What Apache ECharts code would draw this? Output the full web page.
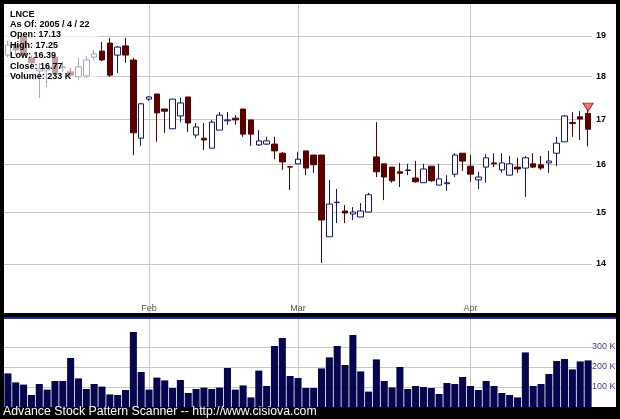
<!DOCTYPE html>
<html><head><meta charset="utf-8">
<script src="https://cdn.jsdelivr.net/npm/echarts@6/dist/echarts.min.js"></script>
<style>html,body{margin:0;padding:0;background:#000;}#c{width:620px;height:419px;}</style>
</head><body><div id="c"></div>
<script>
const ticker = 'LNCE';
const dates = [
 '2005-01-05','2005-01-06','2005-01-07','2005-01-10','2005-01-11','2005-01-12','2005-01-13','2005-01-14','2005-01-18','2005-01-19',
 '2005-01-20','2005-01-21','2005-01-24','2005-01-25','2005-01-26','2005-01-27','2005-01-28','2005-01-31',
 '2005-02-01','2005-02-02','2005-02-03','2005-02-04','2005-02-07','2005-02-08','2005-02-09','2005-02-10','2005-02-11','2005-02-14',
 '2005-02-15','2005-02-16','2005-02-17','2005-02-18','2005-02-22','2005-02-23','2005-02-24','2005-02-25','2005-02-28',
 '2005-03-01','2005-03-02','2005-03-03','2005-03-04','2005-03-07','2005-03-08','2005-03-09','2005-03-10','2005-03-11','2005-03-14',
 '2005-03-15','2005-03-16','2005-03-17','2005-03-18','2005-03-21','2005-03-22','2005-03-23','2005-03-24','2005-03-28','2005-03-29',
 '2005-03-30','2005-03-31',
 '2005-04-01','2005-04-04','2005-04-05','2005-04-06','2005-04-07','2005-04-08','2005-04-11','2005-04-12','2005-04-13','2005-04-14',
 '2005-04-15','2005-04-18','2005-04-19','2005-04-20','2005-04-21','2005-04-22'
];
const openP = [18.52,18.77,19.00,18.45,18.13,18.15,18.47,18.21,18.11,17.99,
 18.01,18.47,18.62,18.82,18.52,18.75,18.40,16.57,17.46,17.58,
 17.23,16.78,17.07,17.51,16.64,16.57,16.35,16.75,16.96,17.02,
 17.23,16.98,16.42,16.44,16.44,16.24,15.95,16.01,16.29,16.20,
 16.20,14.52,15.20,15.03,14.97,14.91,15.01,16.16,16.01,15.94,
 15.84,15.87,15.71,15.61,15.96,15.56,15.59,15.79,16.24,15.96,
 15.67,15.94,16.03,15.88,15.77,15.94,15.92,16.01,15.99,16.03,
 16.24,16.49,16.92,17.05,17.13];
const closeP = [18.77,18.65,18.52,18.33,18.18,18.20,18.08,18.23,18.03,18.23,
 18.40,18.55,18.40,18.03,18.72,18.52,16.69,17.35,17.51,17.14,
 17.18,17.46,17.37,16.91,16.82,16.53,16.93,17.09,16.98,16.98,
 16.66,16.66,16.51,16.51,16.29,16.05,15.94,16.11,15.92,15.99,
 14.85,15.17,15.21,14.99,15.01,15.03,15.36,15.84,15.73,15.65,
 15.81,15.88,15.63,15.90,15.65,15.69,15.61,16.20,16.07,15.79,
 15.73,16.14,16.01,16.03,16.01,15.90,16.14,15.94,15.92,16.07,
 16.46,17.07,16.90,17.00,16.77];
const lowP = [18.47,18.52,18.50,18.25,17.49,17.75,18.03,18.11,17.99,17.91,
 17.96,18.40,18.37,17.99,18.08,18.33,16.20,16.40,17.42,16.49,
 16.69,16.77,16.93,16.71,16.57,16.31,16.35,16.75,16.87,16.87,
 16.60,16.40,16.40,16.42,16.11,15.88,15.46,16.01,15.77,15.82,
 14.02,14.52,14.79,14.79,14.85,14.91,15.01,15.73,15.25,15.61,
 15.52,15.77,15.61,15.61,15.63,15.56,15.44,15.73,15.86,15.63,
 15.48,15.61,15.94,15.82,15.77,15.82,15.32,15.92,15.88,15.82,
 15.96,16.49,16.60,16.53,16.39];
const highP = [18.87,18.85,19.05,18.50,18.33,18.28,18.52,18.35,18.20,18.45,
 18.50,18.65,18.85,18.95,18.75,18.95,18.45,17.37,17.53,17.58,
 17.23,17.47,17.49,17.51,16.91,16.91,16.98,17.16,17.16,17.09,
 17.23,16.98,16.75,16.60,16.60,16.27,15.96,16.27,16.29,16.20,
 16.20,15.67,15.48,15.15,15.11,15.19,15.40,16.93,16.01,15.94,
 16.03,16.01,16.07,16.01,15.96,16.01,15.77,16.24,16.24,16.20,
 15.84,16.22,16.24,16.24,16.18,16.14,16.18,16.24,16.18,16.29,
 16.60,17.09,17.16,17.18,17.25];
const volumeK = [168,123,112,60,115,87,130,130,245,143,
 90,115,102,63,60,85,375,175,87,147,
 133,95,135,70,90,97,90,97,195,87,
 108,48,182,105,305,345,155,145,95,95,
 193,248,305,210,360,178,77,238,130,98,
 200,90,105,100,95,65,120,115,150,105,
 85,130,105,70,60,48,273,105,115,165,
 230,240,188,228,233];
const priceTicks = [14,15,16,17,18,19];
const volumeTicks = [100,200,300];
const monthNames = ['Jan','Feb','Mar','Apr','May','Jun','Jul','Aug','Sep','Oct','Nov','Dec'];

const FONT = 'Liberation Sans, Arial, sans-serif';
function isMonthStart(i){ return i > 0 && dates[i].slice(5,7) !== dates[i-1].slice(5,7); }
const ohlc = dates.map((d,i) => [openP[i], closeP[i], lowP[i], highP[i]]);
const last = dates.length - 1;
const dp = dates[last].split('-');
const infoText = [
  ticker,
  'As Of: ' + dp[0] + ' / ' + (+dp[1]) + ' / ' + (+dp[2]),
  'Open: ' + openP[last].toFixed(2),
  'High: ' + highP[last].toFixed(2),
  'Low: ' + lowP[last].toFixed(2),
  'Close: ' + closeP[last].toFixed(2),
  'Volume: ' + volumeK[last] + ' K'
].join('\n');

const monthSplit = {
  show: true,
  interval: (idx) => isMonthStart(idx),
  alignWithLabel: true,
  lineStyle: {color: '#c8c8c8', width: 1}
};

const chart = echarts.init(document.getElementById('c'), null, {renderer: 'canvas'});
chart.setOption({
  animation: false,
  backgroundColor: '#000',
  grid: [
    {left: 4, right: 28, top: 4, height: 309},
    {left: 4, right: 28, top: 319, height: 88}
  ],
  xAxis: [
    {type: 'category', gridIndex: 0, data: dates, boundaryGap: true,
     axisLine: {show: false}, axisTick: {show: false, alignWithLabel: true},
     axisLabel: {inside: true, margin: 0, interval: (idx) => isMonthStart(idx),
       formatter: (v) => monthNames[+v.slice(5,7) - 1], color: '#555', fontSize: 9, fontFamily: FONT},
     splitLine: monthSplit},
    {type: 'category', gridIndex: 1, data: dates, boundaryGap: true,
     axisLine: {show: false}, axisTick: {show: false, alignWithLabel: true},
     axisLabel: {show: false}, splitLine: monthSplit}
  ],
  yAxis: [
    {type: 'log', gridIndex: 0, position: 'right', min: 13.111, max: 19.832, logBase: 10,
     axisLine: {show: false}, axisTick: {show: false, customValues: priceTicks},
     axisLabel: {customValues: priceTicks, margin: 4, color: '#000', fontSize: 9, fontWeight: 'bold', fontFamily: FONT,
       formatter: (v) => String(Math.round(v))},
     splitLine: {show: true, lineStyle: {color: '#c8c8c8', width: 1}}},
    {type: 'value', gridIndex: 1, position: 'right', min: 0, max: 440,
     axisLine: {show: false}, axisTick: {show: false, customValues: volumeTicks},
     axisLabel: {customValues: volumeTicks, margin: 0, color: '#3d3d8f', fontSize: 9, fontFamily: FONT,
       formatter: (v) => v + ' K'},
     splitLine: {show: true, lineStyle: {color: '#c8c8c8', width: 1}}}
  ],
  series: [
    {type: 'candlestick', xAxisIndex: 0, yAxisIndex: 0, data: ohlc, barWidth: 6,
     itemStyle: {color: '#ffffff', color0: '#5a0000', borderColor: '#15156b', borderColor0: '#5a0000', borderWidth: 1},
     markPoint: {silent: true, animation: false, label: {show: false},
       data: [{coord: [dates[last], highP[last]], symbol: 'triangle', symbolRotate: 180, symbolSize: [10, 8], symbolOffset: [0, -1]}],
       itemStyle: {color: '#f07878', borderColor: '#b02020', borderWidth: 1}}},
    {type: 'bar', xAxisIndex: 1, yAxisIndex: 1, data: volumeK, barCategoryGap: '10%',
     itemStyle: {color: '#06064f'}}
  ],
  graphic: [
    {type: 'rect', z: -100, silent: true, shape: {x: 4, y: 4, width: 612, height: 309}, style: {fill: '#ffffff'}},
    {type: 'rect', z: -100, silent: true, shape: {x: 4, y: 317, width: 612, height: 2}, style: {fill: '#2a2a9a'}},
    {type: 'rect', z: -100, silent: true, shape: {x: 4, y: 319, width: 612, height: 88}, style: {fill: '#ffffff'}},
    {type: 'rect', z: 100, silent: true, shape: {x: 4, y: 4, width: 94, height: 96}, style: {fill: 'rgba(255,255,255,0.62)'}},
    {type: 'text', z: 101, silent: true, x: 10, y: 9,
     style: {text: infoText, fill: '#000', font: 'bold 9px ' + FONT, lineHeight: 10.4, verticalAlign: 'top'}},
    {type: 'text', z: 101, silent: true, x: 3, y: 406,
     style: {text: 'Advance Stock Pattern Scanner -- http://www.cisiova.com', fill: '#fff', font: '12.3px ' + FONT, verticalAlign: 'top'}}
  ]
});
</script>
</body></html>
